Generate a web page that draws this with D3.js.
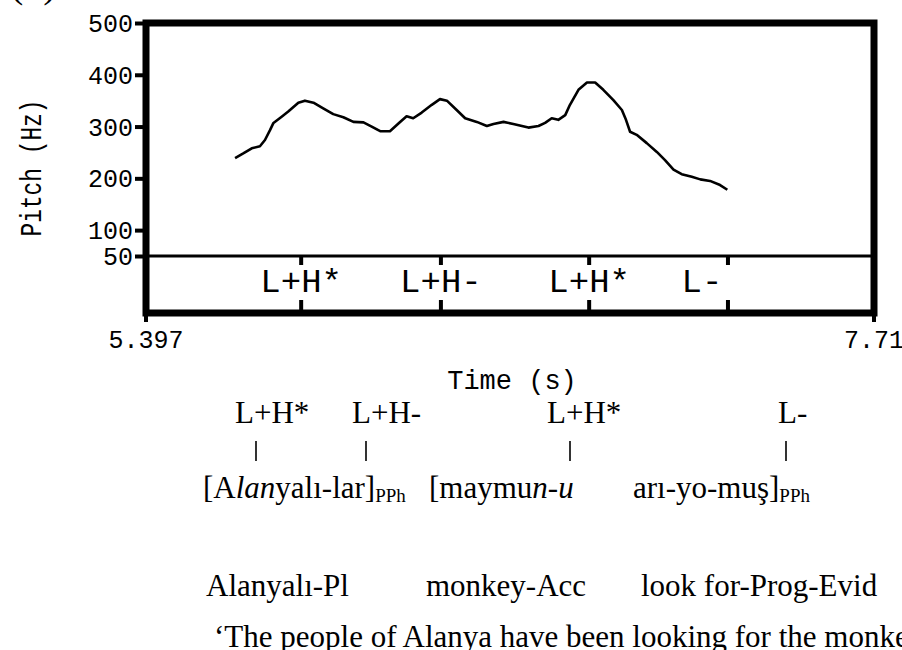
<!DOCTYPE html>
<html>
<head>
<meta charset="utf-8">
<script src="https://cdn.jsdelivr.net/npm/d3@7"></script>
<style>
  body { margin: 0; background: #fff; overflow: hidden; }
  .mono { font-family: "Liberation Mono", "DejaVu Sans Mono", monospace; fill: #000; }
  .serif { font-family: "Liberation Serif", "Times New Roman", serif; fill: #000; }
</style>
</head>
<body>
<div id="pitch_chart"></div>
<script>
// pitch track (time in s, F0 in Hz)
const times = [5.680, 5.706, 5.733, 5.759, 5.775, 5.791, 5.802, 5.828, 5.849, 5.881,
    5.902, 5.929, 5.960, 5.992, 6.024, 6.056, 6.088, 6.114, 6.141, 6.172,
    6.199, 6.225, 6.246, 6.273, 6.305, 6.331, 6.353, 6.384, 6.411, 6.448,
    6.480, 6.501, 6.533, 6.564, 6.612, 6.644, 6.665, 6.686, 6.707, 6.729,
    6.744, 6.771, 6.798, 6.824, 6.850, 6.882, 6.909, 6.922, 6.935, 6.956,
    6.988, 7.020, 7.046, 7.073, 7.099, 7.131, 7.158, 7.189, 7.221, 7.244];
const pitch = [239, 248, 258, 262, 274, 293, 307, 319, 329, 346,
    350, 346, 335, 324, 318, 309, 308, 300, 291, 291,
    306, 320, 316, 327, 342, 353, 350, 332, 316, 309,
    301, 305, 309, 305, 298, 301, 307, 316, 313, 322,
    342, 371, 385, 385, 371, 351, 332, 313, 290, 284,
    268, 251, 235, 217, 208, 203, 198, 195, 187, 178];

// tone tier
const tierTimes = [5.890, 6.334, 6.805, 7.246];
const tierLabels = ["L+H*", "L+H-", "L+H*", "L-"];

// axes
const timeDomain = [5.397, 7.71];
const timeTickLabels = ["5.397", "7.71"];
const pitchDomain = [50, 500];
const pitchTicks = [500, 400, 300, 200, 100, 50];

// annotation lines below the chart
const accents = ["L+H*", "L+H-", "L+H*", "L-"];
const glosses = ["Alanyalı-Pl", "monkey-Acc", "look for-Prog-Evid"];
const translation = "\u2018The people of Alanya have been looking for the monkey.\u2019";
const panelLabel = "(b)";

// set the dimensions of the plot area
const plotLeft = 146, plotRight = 874, plotTop = 23, tierTop = 256, plotBottom = 313;

const svg = d3.select("#pitch_chart")
    .append("svg")
    .attr("width", 902)
    .attr("height", 650);

const x = d3.scaleLinear().domain(timeDomain).range([plotLeft, plotRight]);
const y = d3.scaleLinear().domain(pitchDomain).range([tierTop, plotTop]);

// panel label, mostly cut off by the top edge
svg.append("text")
    .attr("class", "serif")
    .attr("x", 10)
    .attr("y", -3)
    .style("font-size", "40px")
    .text(panelLabel);

// y axis ticks and labels
const yAxis = svg.append("g")
    .attr("transform", `translate(${plotLeft}, 0)`)
    .call(d3.axisLeft(y).tickValues(pitchTicks).tickSize(11).tickPadding(2).tickFormat(d3.format("d")));
yAxis.select(".domain").remove();
yAxis.selectAll(".tick line").attr("stroke", "#000").attr("stroke-width", 4);
yAxis.selectAll(".tick text")
    .attr("class", "mono")
    .attr("font-family", null)
    .attr("font-size", null)
    .style("font-size", "25px")
    .attr("dy", "0.34em");

// y axis label
svg.append("text")
    .attr("class", "mono")
    .attr("transform", `translate(41, 168) rotate(-90)`)
    .attr("text-anchor", "middle")
    .attr("textLength", 137)
    .attr("lengthAdjust", "spacingAndGlyphs")
    .style("font-size", "30px")
    .text("Pitch (Hz)");

// pitch contour
const line = d3.line()
    .x(d => x(d[0]))
    .y(d => y(d[1]));
svg.append("path")
    .datum(times.map((t, i) => [t, pitch[i]]))
    .attr("fill", "none")
    .attr("stroke", "#000")
    .attr("stroke-width", 2.6)
    .attr("stroke-linejoin", "round")
    .attr("d", line);

// tier separator
svg.append("line")
    .attr("x1", plotLeft).attr("x2", plotRight)
    .attr("y1", tierTop).attr("y2", tierTop)
    .attr("stroke", "#000")
    .attr("stroke-width", 3);

// tier point marks
const tier = svg.append("g");
tier.selectAll(".mark-top")
    .data(tierTimes)
    .join("line")
    .attr("x1", d => x(d)).attr("x2", d => x(d))
    .attr("y1", tierTop).attr("y2", tierTop + 9)
    .attr("stroke", "#000")
    .attr("stroke-width", 4);
tier.selectAll(".mark-bottom")
    .data(tierTimes)
    .join("line")
    .attr("x1", d => x(d)).attr("x2", d => x(d))
    .attr("y1", plotBottom - 13).attr("y2", plotBottom)
    .attr("stroke", "#000")
    .attr("stroke-width", 4);
const tierShift = [0, 0, 0, -26];
tier.selectAll("text")
    .data(tierLabels)
    .join("text")
    .attr("class", "mono")
    .attr("x", (d, i) => x(tierTimes[i]) + tierShift[i])
    .attr("y", 292)
    .attr("text-anchor", "middle")
    .style("font-size", "34px")
    .text(d => d);

// frame
const frame = svg.append("g").attr("stroke", "#000").attr("stroke-width", 7).attr("fill", "none");
frame.append("rect")
    .attr("x", plotLeft).attr("y", plotTop)
    .attr("width", plotRight - plotLeft).attr("height", plotBottom - plotTop);
// end ticks on the time axis
frame.selectAll(".xtick")
    .data(timeDomain)
    .join("line")
    .attr("x1", d => x(d)).attr("x2", d => x(d))
    .attr("y1", plotBottom).attr("y2", plotBottom + 9)
    .attr("stroke-width", 4);

// time tick labels
svg.selectAll(".xlabel")
    .data(timeTickLabels)
    .join("text")
    .attr("class", "mono")
    .attr("x", (d, i) => x(timeDomain[i]))
    .attr("y", 348)
    .attr("text-anchor", "middle")
    .style("font-size", "25px")
    .text(d => d);

svg.append("text")
    .attr("class", "mono")
    .attr("x", 512)
    .attr("y", 389)
    .attr("text-anchor", "middle")
    .style("font-size", "27px")
    .text("Time (s)");

// accent line
const accentX = [235, 352, 547, 778];
const barX = [256, 366, 570, 786];
svg.selectAll(".accent")
    .data(accents)
    .join("text")
    .attr("class", "serif")
    .attr("x", (d, i) => accentX[i])
    .attr("y", 423)
    .style("font-size", "31px")
    .text(d => d);
svg.selectAll(".bar")
    .data(accents)
    .join("line")
    .attr("x1", (d, i) => barX[i]).attr("x2", (d, i) => barX[i])
    .attr("y1", 441).attr("y2", 461)
    .attr("stroke", "#000")
    .attr("stroke-width", 1.6);

// words with italic stress syllables and PPh subscripts
function word(xPos, parts) {
    const t = svg.append("text")
        .attr("class", "serif")
        .attr("x", xPos)
        .attr("y", 498)
        .style("font-size", "31px");
    parts.forEach(p => {
        const s = t.append("tspan").text(p[0]);
        if (p[1] == "i") s.style("font-style", "italic");
        if (p[1] == "sub") s.style("font-size", "19px").attr("dy", 4);
    });
}
word(203, [["[A"], ["lan", "i"], ["yalı-lar]"], ["PPh", "sub"]]);
word(429, [["[maymu"], ["n-u", "i"]]);
word(633, [["arı-yo-muş]"], ["PPh", "sub"]]);

// gloss line
const glossX = [206, 426, 641];
svg.selectAll(".gloss")
    .data(glosses)
    .join("text")
    .attr("class", "serif")
    .attr("x", (d, i) => glossX[i])
    .attr("y", 596)
    .style("font-size", "31px")
    .text(d => d);

// translation
svg.append("text")
    .attr("class", "serif")
    .attr("x", 214)
    .attr("y", 647)
    .style("font-size", "31px")
    .text(translation);
</script>
</body>
</html>
